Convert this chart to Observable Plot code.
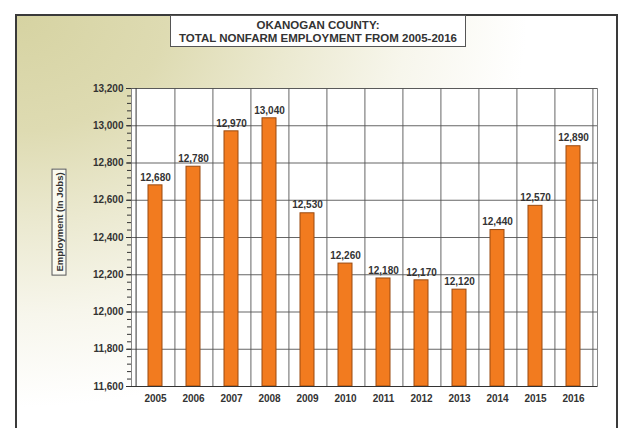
<!DOCTYPE html>
<html>
<head>
<meta charset="utf-8">
<script src="https://cdn.jsdelivr.net/npm/d3@7"></script>
<script src="https://cdn.jsdelivr.net/npm/@observablehq/plot@0.6"></script>
<style>
  html, body { margin: 0; padding: 0; background: #fff; }
  body { width: 630px; height: 428px; position: relative; overflow: hidden; font-family: "Liberation Sans", Arial, sans-serif; }
  #frame { position: absolute; left: 15px; top: 14px; width: 599px; height: 430px;
    border: 2px solid #3a3a3a; border-bottom: none;
    background: radial-gradient(ellipse 600px 460px at 0px 0px, #d6d3a2 0%, #dedbb2 25%, #ebe9d0 45%, #f7f6ec 65%, #ffffff 85%); }
  #title { position: absolute; left: 170px; top: 15px; width: 296px; height: 32px;
    border: 1px solid #555; background: #fff; text-align: center; font-weight: bold;
    font-size: 11.5px; line-height: 13px; color: #333; padding-top: 3px; box-sizing: border-box; white-space: nowrap; }
  #ylab { position: absolute; left: 59px; top: 222px; transform: translate(-50%,-50%) rotate(-90deg);
    border: 1px solid #555; background: #fafaf0; font-weight: bold; font-size: 9.5px; color: #333;
    padding: 1px 3px; white-space: nowrap; }
  #chart { position: absolute; left: 0; top: 0; }
</style>
</head>
<body>
<div id="frame"></div>
<div id="chart"></div>
<div id="title">OKANOGAN COUNTY:<br>TOTAL NONFARM EMPLOYMENT FROM 2005-2016</div>
<div id="ylab">Employment (In Jobs)</div>
<script>
const years = ["2005","2006","2007","2008","2009","2010","2011","2012","2013","2014","2015","2016"];
const jobs = [12680,12780,12970,13040,12530,12260,12180,12170,12120,12440,12570,12890];
const yTicks = [11600,11800,12000,12200,12400,12600,12800,13000,13200];
const yMinorStep = 40;

const data = years.map((y, i) => ({year: y, jobs: jobs[i]}));
const minor = d3.range(yTicks[0], yTicks[yTicks.length-1] + 1, yMinorStep);

const W = 630, H = 428, mL = 131, mR = 33, mT = 88, mB = 42;
const step = (W - mL - mR) / years.length;
const fmt = d3.format(",");

const chart = Plot.plot({
  width: W, height: H,
  marginLeft: mL, marginRight: mR, marginTop: mT, marginBottom: mB,
  style: {background: "transparent", fontFamily: "Liberation Sans, Arial, sans-serif", fontSize: "10px", fontWeight: "bold", color: "#333"},
  x: {type: "band", domain: years, padding: 0},
  y: {domain: [yTicks[0], yTicks[yTicks.length-1]]},
  marks: [
    Plot.frame({fill: "white", stroke: "#888"}),
    Plot.gridY(yTicks, {stroke: "#555", strokeOpacity: 0.9}),
    Plot.ruleX(years, {x: d => d, dx: step/2, stroke: "#555", strokeOpacity: 0.9}),
    Plot.barY(data, {x: "year", y1: yTicks[0], y2: "jobs", fill: "#f27b1f", stroke: "#9a4a10", strokeWidth: 1, insetLeft: 12, insetRight: 12}),
    Plot.text(data, {x: "year", y: "jobs", text: d => fmt(d.jobs), dy: -8, fill: "#333", fontSize: 10, fontWeight: "bold"}),
    Plot.axisY(minor, {tickSize: 4, text: null, stroke: "#333", label: null}),
    Plot.axisY(yTicks, {tickSize: 5, tickFormat: fmt, tickPadding: 3, fill: "#333", stroke: "#333", label: null}),
    Plot.axisX({tickSize: 0, tickPadding: 8, fill: "#333", label: null}),
    Plot.ruleX(years, {x: d => d, dx: step/2, y1: yTicks[0], y2: yTicks[0], stroke: "#333"}),
    Plot.ruleY([yTicks[0]], {stroke: "#333"}),
    Plot.ruleX([years[0]], {x: d => d, dx: -step/2, stroke: "#333"})
  ]
});
document.getElementById("chart").appendChild(chart);
</script>
</body>
</html>
